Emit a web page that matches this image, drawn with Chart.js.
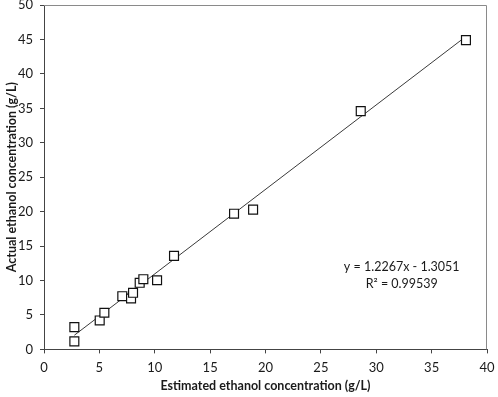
<!DOCTYPE html>
<html>
<head>
<meta charset="utf-8">
<script src="https://cdn.jsdelivr.net/npm/chart.js@4/dist/chart.umd.min.js"></script>
<style>
  html, body { margin: 0; padding: 0; background: #fff; }
  #wrap { width: 498px; height: 397px; }
</style>
</head>
<body>
<div id="wrap"><canvas id="c" width="498" height="397"></canvas></div>
<script>
const estimated = [2.74, 2.74, 5.03, 5.45, 7.07, 7.86, 8.04, 8.64, 8.97, 10.21, 11.74, 17.16, 18.88, 28.6, 38.1];
const actual    = [3.23, 1.16, 4.2, 5.32, 7.72, 7.39, 8.22, 9.67, 10.19, 10.04, 13.58, 19.7, 20.3, 34.6, 44.9];
const slope = 1.2267;
const intercept = -1.3051;
const equationLines = ["y = 1.2267x - 1.3051", "R² = 0.99539"];
const xTitle = "Estimated ethanol concentration (g/L)";
const yTitle = "Actual ethanol concentration (g/L)";

const points = estimated.map((x, i) => ({ x: x, y: actual[i] }));
const xMin = Math.min(...estimated), xMax = Math.max(...estimated);
const trend = [xMin, xMax].map(x => ({ x: x, y: slope * x + intercept }));

const FONT = "Lato, 'Open Sans', sans-serif";

const framePlugin = {
  id: 'frame',
  afterDatasetsDraw(chart) {
    const { ctx, chartArea: a } = chart;
    ctx.save();
    ctx.strokeStyle = '#8a8a8a';
    ctx.lineWidth = 1;
    ctx.beginPath();
    ctx.moveTo(a.left, a.top + 0.5);
    ctx.lineTo(a.right - 0.5, a.top + 0.5);
    ctx.lineTo(a.right - 0.5, a.bottom);
    ctx.stroke();
    const xs = chart.scales.x, ys = chart.scales.y;
    const cx = xs.getPixelForValue(32.3);
    const cy = ys.getPixelForValue(11.9);
    ctx.fillStyle = '#1a1a1a';
    ctx.font = "12.5px " + FONT;
    ctx.textAlign = 'center';
    ctx.textBaseline = 'middle';
    ctx.fillText(equationLines[0], cx, cy);
    ctx.fillText(equationLines[1], cx, cy + 17);
    ctx.restore();
  }
};

new Chart(document.getElementById('c'), {
  type: 'scatter',
  data: {
    datasets: [
      {
        type: 'line',
        data: trend,
        borderColor: '#3a3a3a',
        borderWidth: 1,
        pointRadius: 0,
        fill: false,
        order: 2
      },
      {
        data: points,
        pointStyle: 'rect',
        pointRadius: 6.3,
        pointHoverRadius: 6.3,
        borderColor: '#111',
        backgroundColor: '#fff',
        pointBorderWidth: 1.2,
        borderWidth: 1.2,
        order: 1
      }
    ]
  },
  options: {
    responsive: false,
    animation: false,
    events: [],
    layout: { autoPadding: false, padding: { left: 0, right: 11, top: 5, bottom: 0 } },
    plugins: { legend: { display: false }, tooltip: { enabled: false } },
    scales: {
      x: {
        type: 'linear',
        min: 0, max: 40,
        afterFit(scale) { scale.paddingLeft = 0; scale.paddingRight = 0; },
        ticks: { stepSize: 5, color: '#1a1a1a', font: { family: FONT, size: 13 }, padding: 7, maxRotation: 0 },
        grid: { display: true, drawOnChartArea: false, drawTicks: true, tickLength: 4, color: '#444' },
        border: { display: true, color: '#444', width: 1 },
        title: { display: true, text: xTitle, color: '#1a1a1a', font: { family: FONT, size: 12.5, weight: 'bold' }, padding: { top: -5, bottom: 4 } }
      },
      y: {
        type: 'linear',
        min: 0, max: 50,
        afterFit(scale) { scale.width = 44; scale.paddingTop = 0; scale.paddingBottom = 0; },
        ticks: { stepSize: 5, color: '#1a1a1a', font: { family: FONT, size: 13 }, padding: 7 },
        grid: { display: true, drawOnChartArea: false, drawTicks: true, tickLength: 4, color: '#444' },
        border: { display: true, color: '#444', width: 1 },
        title: { display: true, text: yTitle, color: '#1a1a1a', font: { family: FONT, size: 12.5, weight: 'bold' }, padding: { top: 4, bottom: 0 } }
      }
    }
  },
  plugins: [framePlugin]
});
</script>
</body>
</html>
